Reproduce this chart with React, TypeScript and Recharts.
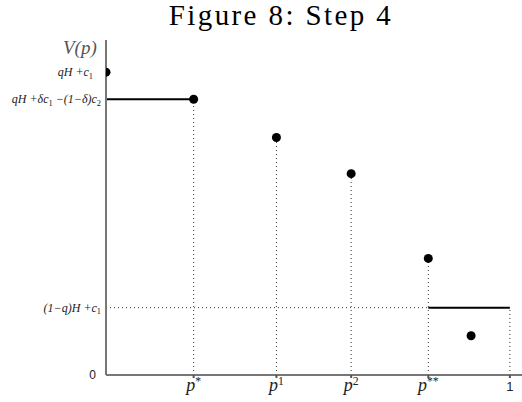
import React from "react";
import {
  ComposedChart,
  Scatter,
  XAxis,
  YAxis,
  ReferenceLine,
  Label,
} from "recharts";

const xTicks = [0.217, 0.422, 0.607, 0.798, 1];
const xTickLabels = ["p*", "p1", "p2", "p**", "1"];
const yTicks = [0, 20.1, 82.3, 90.4];
const yTickLabels = ["0", "(1−q)H +c1", "qH +δc1 −(1−δ)c2", "qH +c1"];

const dotX = [0, 0.217, 0.422, 0.607, 0.798, 0.904];
const dotY = [90.4, 82.3, 70.9, 60.1, 34.8, 11.7];

const highLevel = 82.3;
const lowLevel = 20.1;

const points = dotX.map((x, i) => ({ x, y: dotY[i] }));
const serif = "'Liberation Serif', 'DejaVu Serif', serif";

const renderMath = (s: string, mode: "sub" | "sup") => {
  if (mode === "sup") {
    if (s[0] !== "p") return s;
    return [
      <tspan key="b">p</tspan>,
      <tspan key="s" fontSize="0.65em" dy="-0.55em" fontStyle="normal">
        {s.slice(1)}
      </tspan>,
    ];
  }
  const out: React.ReactNode[] = [];
  let sub = false;
  for (let i = 0; i < s.length; i++) {
    const ch = s[i];
    if (/\d/.test(ch) && s[i - 1] === "c") {
      out.push(
        <tspan key={i} fontSize="0.7em" dy="0.3em" fontStyle="normal">
          {ch}
        </tspan>
      );
      sub = true;
    } else {
      out.push(
        <tspan key={i} dy={sub ? "-0.21em" : 0}>
          {ch}
        </tspan>
      );
      sub = false;
    }
  }
  return out;
};

const XTick = ({ x, y, payload }: any) => {
  const idx = xTicks.indexOf(payload.value);
  const label = xTickLabels[idx] ?? "";
  const isNum = label === "1";
  return (
    <text
      x={x}
      y={y + 11}
      textAnchor="middle"
      fontFamily={isNum ? "'Liberation Sans', sans-serif" : serif}
      fontStyle={isNum ? "normal" : "italic"}
      fontSize={isNum ? 13 : 18}
      fill="#222"
    >
      {renderMath(label, "sup")}
    </text>
  );
};

const YTick = ({ x, y, payload }: any) => {
  const idx = yTicks.indexOf(payload.value);
  const label = yTickLabels[idx] ?? "";
  const isNum = label === "0";
  // leave room for a dot sitting on the axis
  const onDot = dotX.some((dx, i) => dx === 0 && dotY[i] === payload.value);
  return (
    <text
      x={x - (onDot ? 8 : isNum ? 5 : 0)}
      y={y + 4}
      textAnchor="end"
      fontFamily={isNum ? "'Liberation Sans', sans-serif" : serif}
      fontStyle={isNum ? "normal" : "italic"}
      fontSize={12}
      fill="#222"
    >
      {renderMath(label, "sub")}
    </text>
  );
};

const Dot = ({ cx, cy }: any) => <circle cx={cx} cy={cy} r={4.5} fill="#000" />;

export default function App() {
  return (
    <div
      style={{
        position: "absolute",
        left: 0,
        top: 0,
        width: 522,
        height: 402,
        background: "#fff",
      }}
    >
      <div
        style={{
          position: "absolute",
          top: 0,
          left: 40,
          width: 482,
          textAlign: "center",
          fontFamily: serif,
          fontSize: 29,
          letterSpacing: 2.4,
          lineHeight: "30px",
          color: "#000",
        }}
      >
        Figure 8: Step 4
      </div>
      <ComposedChart
        width={522}
        height={402}
        data={points}
        margin={{ top: 40, right: 0, bottom: 0, left: 0 }}
      >
        <XAxis
          type="number"
          dataKey="x"
          domain={[0, 1.03]}
          ticks={xTicks}
          tick={<XTick />}
          tickLine={{ stroke: "#555" }}
          tickSize={3}
          height={27}
          stroke="#777"
          strokeWidth={2}
          allowDataOverflow
        />
        <YAxis
          type="number"
          dataKey="y"
          domain={[0, 100]}
          ticks={yTicks}
          tick={<YTick />}
          tickLine={false}
          tickSize={0}
          tickMargin={5}
          width={106}
          stroke="#777"
          strokeWidth={2}
        >
          <Label
            content={() => (
              <text
                x={63}
                y={54}
                fontFamily={serif}
                fontStyle="italic"
                fontSize={19}
                fill="#555"
              >
                V(p)
              </text>
            )}
          />
        </YAxis>
        {/* dotted drop lines */}
        {dotX.slice(1, 5).map((x, i) => (
          <ReferenceLine
            key={"v" + i}
            segment={[
              { x, y: 0 },
              { x, y: dotY[i + 1] },
            ]}
            stroke="#333"
            strokeDasharray="1 3"
          />
        ))}
        <ReferenceLine
          segment={[
            { x: 1, y: 0 },
            { x: 1, y: lowLevel },
          ]}
          stroke="#333"
          strokeDasharray="1 3"
        />
        <ReferenceLine
          segment={[
            { x: 0, y: lowLevel },
            { x: dotX[4], y: lowLevel },
          ]}
          stroke="#333"
          strokeDasharray="1 3"
        />
        {/* solid value segments */}
        <ReferenceLine
          segment={[
            { x: 0, y: highLevel },
            { x: dotX[1], y: highLevel },
          ]}
          stroke="#000"
          strokeWidth={2}
        />
        <ReferenceLine
          segment={[
            { x: dotX[4], y: lowLevel },
            { x: 1, y: lowLevel },
          ]}
          stroke="#000"
          strokeWidth={2}
        />
        <Scatter
          data={points}
          dataKey="y"
          shape={<Dot />}
          isAnimationActive={false}
        />
      </ComposedChart>
    </div>
  );
}
